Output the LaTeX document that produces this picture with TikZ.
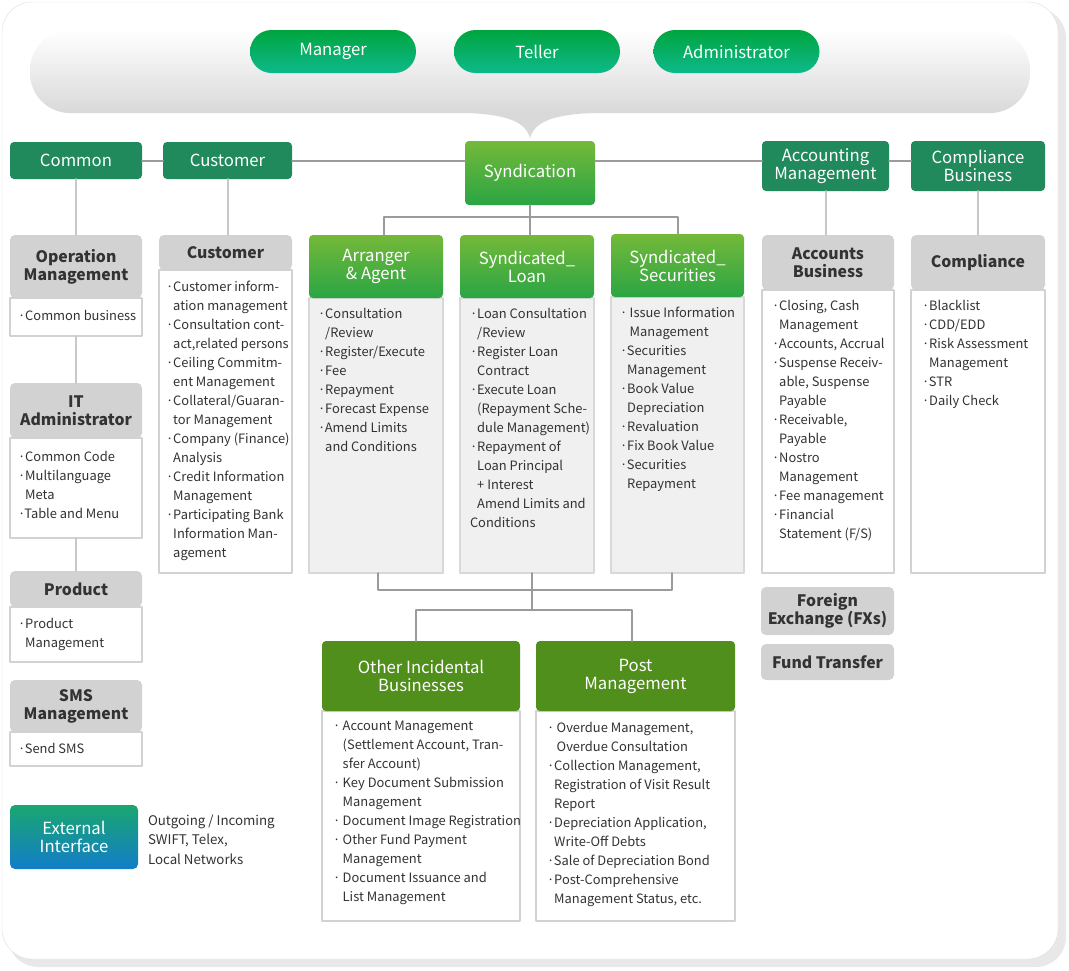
\documentclass[tikz,border=0pt]{standalone}
\usepackage{fontspec}
\setmainfont{Noto Sans CJK KR}
\usetikzlibrary{positioning}
\definecolor{pilltop}{RGB}{0,165,62}
\definecolor{pillbot}{RGB}{14,185,140}
\definecolor{darkgreen}{RGB}{32,138,92}
\definecolor{lgtop}{RGB}{116,185,57}
\definecolor{lgbot}{RGB}{42,165,68}
\definecolor{olive}{RGB}{80,143,27}
\definecolor{headgray}{RGB}{210,210,210}
\definecolor{bodygray}{RGB}{240,240,240}
\definecolor{bodyline}{RGB}{216,216,216}
\definecolor{linegray}{RGB}{155,155,155}
\definecolor{lightline}{RGB}{200,200,200}
\definecolor{txt}{RGB}{51,51,51}
\definecolor{exttop}{RGB}{26,166,112}
\definecolor{extbot}{RGB}{18,125,200}
\definecolor{framegray}{RGB}{222,222,222}
\definecolor{shadowgray}{RGB}{232,232,232}
\newcommand{\nx}{\hphantom{·}}
\newcommand{\sdot}{·\kern2.5pt}
\newcommand{\nxx}{\hphantom{\sdot}}
\begin{document}
\begin{tikzpicture}[x=1pt,y=-1pt,line join=round,line cap=round,
	every node/.style={outer sep=0pt},
	pill/.style={rounded corners=21.5pt,top color=pilltop,bottom color=pillbot,text=white,
		minimum width=166pt,minimum height=43pt,font=\fontsize{16.7}{18}\selectfont},
	darkhead/.style={fill=darkgreen,rounded corners=4pt,text=white,align=center,
		font=\fontsize{16.7}{18}\selectfont},
	lighthead/.style={top color=lgtop,bottom color=lgbot,rounded corners=4pt,text=white,align=center,
		font=\fontsize{16.7}{18}\selectfont},
	olivehead/.style={fill=olive,rounded corners=4pt,text=white,align=center,
		font=\fontsize{16.7}{18}\selectfont},
	grayhead/.style={fill=headgray,rounded corners=5pt,text=txt,align=center,
		font=\bfseries\fontsize{15.8}{18}\selectfont},
	whitebody/.style={draw=headgray,line width=2.5pt,fill=white,anchor=north west},
	graybody/.style={draw=bodyline,line width=2.5pt,fill=bodygray,anchor=north west},
	items/.style={anchor=north west,align=left,inner sep=0pt,text=txt,
		font=\fontsize{12.9}{19}\selectfont},
	conn/.style={draw=linegray,line width=2pt},
	stem/.style={draw=lightline,line width=2pt}]
	\useasboundingbox (0,0) rectangle (1069,970);
	% frame and cloud
	\fill[shadowgray,rounded corners=30pt] (8,8) rectangle (1066,967);
	\draw[framegray,fill=white,rounded corners=30pt] (2,2) rectangle (1058,959);
	\shade[top color=white,middle color=black!4,bottom color=black!15,rounded corners=40pt]
	(30,30) rectangle (1030,113);
	\fill[black!15] (430,112) .. controls (500,112) and (524,118) .. (530,138)
	.. controls (536,118) and (560,112) .. (630,112) -- cycle;
	\foreach \n/\t/\x in {mgr/Manager/333,tel/Teller/537,adm/Administrator/736.5}
	{\node[pill] (\n) at (\x,51.5) {\t};}
	% top row
	\node[darkhead,minimum width=132pt,minimum height=37pt,anchor=north west] (common) at (10,142) {Common};
	\node[darkhead,minimum width=129pt,minimum height=37pt,anchor=north west] (cust) at (163,142) {Customer};
	\node[lighthead,minimum width=130pt,minimum height=64pt,anchor=north west] (synd) at (465,141) {Syndication};
	\node[darkhead,minimum width=127pt,minimum height=50pt,anchor=north west] (acct) at (762,141) {Accounting\\Management};
	\node[darkhead,minimum width=134pt,minimum height=50pt,anchor=north west] (compl) at (911,141) {Compliance\\Business};
	\draw[conn] (common.east) -- (cust.west);
	\draw[conn] (cust.east) -- (cust.east -| synd.west);
	\draw[conn] (cust.east -| synd.east) -- (cust.east -| acct.west);
	\draw[conn] (cust.east -| acct.east) -- (cust.east -| compl.west);
	% left column
	\node[whitebody,minimum width=132pt,minimum height=38pt] (opmb) at (10,298) {};
	\node[grayhead,minimum width=132pt,minimum height=63pt,above=0pt of opmb] (opmh) {Operation\\Management};
	\node[items] (opmt) at ([xshift=8pt,yshift=-12.5pt]opmb.north west) {·Common business};
	\node[whitebody,minimum width=132pt,minimum height=100pt] (itb) at (10,438) {};
	\node[grayhead,minimum width=132pt,minimum height=55pt,above=0pt of itb] (ith) {IT\\Administrator};
	\node[items] (itt) at ([xshift=8pt,yshift=-13.5pt]itb.north west)
	{·Common Code\\·Multilanguage\\\nx Meta\\·Table and Menu};
	\node[whitebody,minimum width=132pt,minimum height=55pt] (prodb) at (10,607) {};
	\node[grayhead,minimum width=132pt,minimum height=36pt,above=0pt of prodb] (prodh) {Product};
	\node[items] (prodt) at ([xshift=8pt,yshift=-11.5pt]prodb.north west) {·Product\\\nx Management};
	\node[whitebody,minimum width=132pt,minimum height=34pt] (smsb) at (10,732) {};
	\node[grayhead,minimum width=132pt,minimum height=52pt,above=0pt of smsb] (smsh) {SMS\\Management};
	\node[items] (smst) at ([xshift=8pt,yshift=-11.5pt]smsb.north west) {·Send SMS};
	\node[top color=exttop,bottom color=extbot,rounded corners=5pt,text=white,align=center,
	minimum width=128pt,minimum height=64pt,anchor=north west,font=\fontsize{16.7}{18}\selectfont]
	(ext) at (10,805) {External\\Interface};
	\node[items,font=\fontsize{13.3}{19.5}\selectfont] (extt) at ([xshift=10pt,yshift=-9.5pt]ext.north east)
	{Outgoing / Incoming\\SWIFT, Telex,\\Local Networks};
	% customer column
	\node[whitebody,minimum width=133pt,minimum height=303pt] (custb) at (159,270) {};
	\node[grayhead,minimum width=133pt,minimum height=35pt,above=0pt of custb] (custh) {Customer};
	\node[items] (custt) at ([xshift=7pt,yshift=-11.5pt]custb.north west)
	{·Customer inform-\\\nx ation management\\·Consultation cont-\\\nx act,related persons\\
		·Ceiling Commitm-\\\nx ent Management\\·Collateral/Guaran-\\\nx tor Management\\
		·Company (Finance)\\\nx Analysis\\·Credit Information\\\nx Management\\
		·Participating Bank\\\nx Information Man-\\\nx agement};
	% syndication columns
	\node[graybody,minimum width=134pt,minimum height=275pt] (arrb) at (309,298) {};
	\node[lighthead,minimum width=134pt,minimum height=63pt,above=0pt of arrb] (arrh) {Arranger\\\& Agent};
	\node[items] (arrt) at ([xshift=9pt,yshift=-10.5pt]arrb.north west)
	{·Consultation\\\nx /Review\\·Register/Execute\\·Fee\\·Repayment\\·Forecast Expense\\
		·Amend Limits\\\nx and Conditions};
	\node[graybody,minimum width=134pt,minimum height=275pt] (loanb) at (460,298) {};
	\node[lighthead,minimum width=134pt,minimum height=63pt,above=0pt of loanb] (loanh) {Syndicated\_\\Loan};
	\node[items] (loant) at ([xshift=10pt,yshift=-10.5pt]loanb.north west)
	{·Loan Consultation\\\nx /Review\\·Register Loan\\\nx Contract\\·Execute Loan\\
		\nx (Repayment Sche-\\\nx dule Management)\\·Repayment of\\\nx Loan Principal\\
		\nx + Interest\\\nx Amend Limits and\\Conditions};
	\node[graybody,minimum width=133pt,minimum height=276pt] (secb) at (611,297) {};
	\node[lighthead,minimum width=133pt,minimum height=63pt,above=0pt of secb] (sech) {Syndicated\_\\Securities};
	\node[items] (sect) at ([xshift=9pt,yshift=-10.5pt]secb.north west)
	{\sdot Issue Information\\\nxx Management\\·Securities\\\nx Management\\·Book Value\\
		\nx Depreciation\\·Revaluation\\·Fix Book Value\\·Securities\\\nx Repayment};
	\draw[conn] (synd.south) -- ++(0,12) coordinate (sj);
	\draw[conn] ([xshift=8pt]arrh.north) |- (sj) -| (sech.north);
	\draw[conn] (sj) -- (sj |- loanh.north);
	% accounting and compliance columns
	\node[whitebody,minimum width=132pt,minimum height=283pt] (accbb) at (762,290) {};
	\node[grayhead,minimum width=132pt,minimum height=55pt,above=0pt of accbb] (accbh) {Accounts\\Business};
	\node[items] (accbt) at ([xshift=10pt,yshift=-10.5pt]accbb.north west)
	{·Closing, Cash\\\nx Management\\·Accounts, Accrual\\·Suspense Receiv-\\\nx able, Suspense\\
		\nx Payable\\·Receivable,\\\nx Payable\\·Nostro\\\nx Management\\·Fee management\\
		·Financial\\\nx Statement (F/S)};
	\node[whitebody,minimum width=134pt,minimum height=283pt] (cmpb) at (911,290) {};
	\node[grayhead,minimum width=134pt,minimum height=55pt,above=0pt of cmpb] (cmph) {Compliance};
	\node[items] (cmpt) at ([xshift=11pt,yshift=-10.5pt]cmpb.north west)
	{·Blacklist\\·CDD/EDD\\·Risk Assessment\\\nx Management\\·STR\\·Daily Check};
	\node[grayhead,minimum width=133pt,minimum height=48pt,anchor=north west] (fx) at (761,587) {Foreign\\Exchange (FXs)};
	\node[grayhead,minimum width=133pt,minimum height=36pt,below=9pt of fx] (fund) {Fund Transfer};
	% stems
	\foreach \a/\b in {common/opmh,opmb/ith,itb/prodh,cust/custh,acct/accbh,compl/cmph}
	{\draw[stem] (\a.south) -- (\a.south |- \b.north);}
	% bottom row
	\node[whitebody,minimum width=198pt,minimum height=210pt] (otb) at (322,711) {};
	\node[olivehead,minimum width=198pt,minimum height=70pt,above=0pt of otb] (oth) {Other Incidental\\Businesses};
	\node[items] (ott) at ([xshift=11pt,yshift=-10.5pt]otb.north west)
	{\sdot Account Management\\\nxx (Settlement Account, Tran-\\\nxx sfer Account)\\
		\sdot Key Document Submission\\\nxx Management\\\sdot Document Image Registration\\
		\sdot Other Fund Payment\\\nxx Management\\\sdot Document Issuance and\\\nxx List Management};
	\node[whitebody,minimum width=199pt,minimum height=210pt] (postb) at (536,711) {};
	\node[olivehead,minimum width=199pt,minimum height=70pt,above=0pt of postb] (posth) {Post\\Management};
	\node[items] (postt) at ([xshift=11pt,yshift=-11.5pt]postb.north west)
	{\sdot Overdue Management,\\\nxx Overdue Consultation\\·Collection Management,\\
		\nx Registration of Visit Result\\\nx Report\\·Depreciation Application,\\
		\nx Write-Off Debts\\·Sale of Depreciation Bond\\·Post-Comprehensive\\
		\nx Management Status, etc.};
	\draw[conn] ([xshift=2pt]arrb.south) |- ([xshift=-5.5pt,yshift=-17pt]secb.south) -- ([xshift=-5.5pt]secb.south);
	\draw[conn] ([xshift=5pt]loanb.south) -- ++(0,37) coordinate (bj);
	\draw[conn] ([xshift=-5pt]oth.north) |- (bj) -| ([xshift=-3.5pt]posth.north);
\end{tikzpicture}
\end{document}
